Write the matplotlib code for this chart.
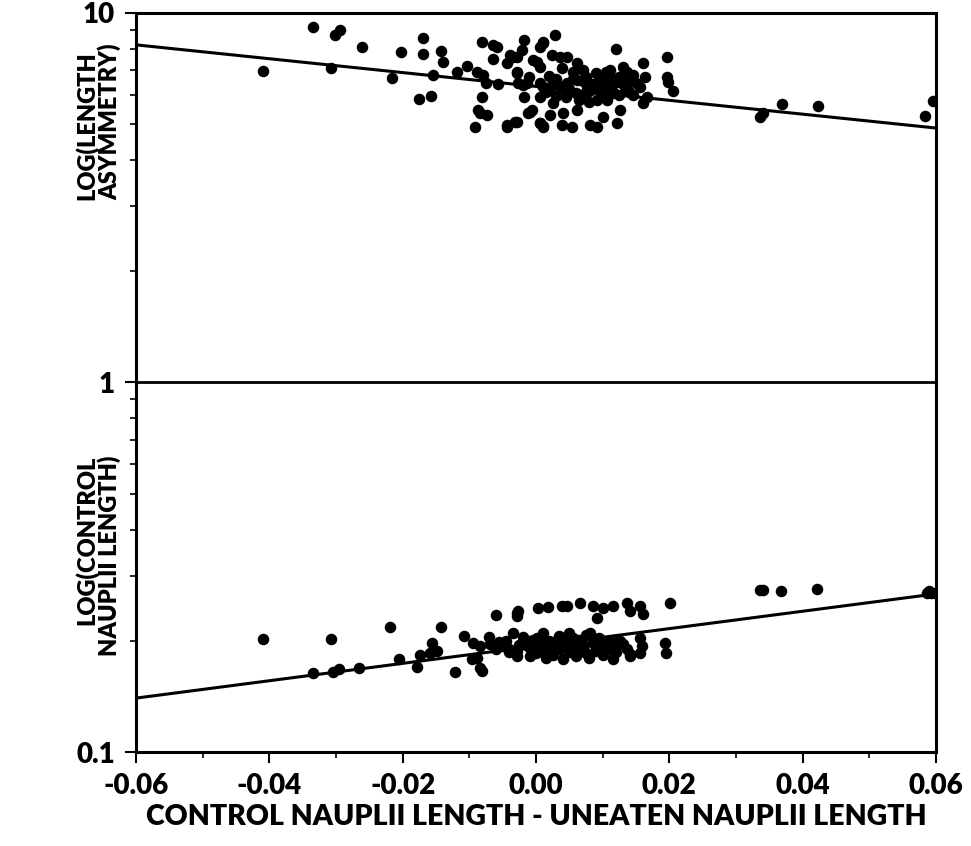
import matplotlib
matplotlib.use("Agg")
import matplotlib.pyplot as plt
import matplotlib.ticker as mticker
import numpy as np

plt.rcParams['font.family'] = ['Lato', 'DejaVu Sans']
plt.rcParams['font.weight'] = 'heavy'
plt.rcParams['axes.unicode_minus'] = False

# upper cloud: length asymmetry
asym_x = [-0.0410, -0.0335, -0.0308, -0.0302, -0.0294, -0.0261, -0.0216, -0.0203, -0.0170, -0.0170,
          -0.0143, -0.0140, -0.0155, -0.0176, -0.0158, -0.0119, -0.0104, -0.0081, -0.0065, -0.0059,
          -0.0065, -0.0089, -0.0080, -0.0075, -0.0057, -0.0081, -0.0087, -0.0084, -0.0074, -0.0092,
          -0.0044, -0.0029, -0.0018, -0.0021, -0.0029, -0.0039, -0.0044, -0.0029, -0.0027, -0.0014,
          -0.0018, -0.0009, 0.0006, 0.0011, 0.0011, 0.0006, 0.0002, 0.0006, 0.0029, 0.0011,
          -0.0035, -0.0029, -0.0005, 0.0006, 0.0024, 0.0036, 0.0047, 0.0062, 0.0071, 0.0039,
          -0.0020, 0.0006, 0.0021, 0.0047, 0.0062, 0.0077, 0.0096, 0.0111, 0.0131, 0.0137,
          0.0146, 0.0120, 0.0161, 0.0164, 0.0156, 0.0167, 0.0161, 0.0092, 0.0107, 0.0116,
          0.0026, 0.0041, 0.0062, 0.0101, 0.0126, 0.0122, 0.0081, 0.0092, 0.0006, 0.0011,
          0.0021, 0.0039, 0.0054, -0.0012, -0.0006, -0.0044, -0.0032, 0.0197, 0.0197, 0.0198,
          0.0206, 0.0336, 0.0341, 0.0369, 0.0423, 0.0584, 0.0596,
          0.0030, 0.0050, 0.0070, 0.0085, 0.0100, 0.0110, 0.0120, 0.0135, 0.0145, 0.0075,
          0.0090, 0.0055, 0.0040, 0.0015, 0.0065, 0.0105, 0.0125, 0.0140, 0.0080, 0.0030,
          0.0035, 0.0060, 0.0080, 0.0095, 0.0115, 0.0130, 0.0150, 0.0020, 0.0045, 0.0070,
          0.0100, 0.0125, 0.0055, 0.0085, 0.0110, 0.0010, -0.0010, 0.0140]
asym_y = [6.96, 9.17, 7.10, 8.72, 8.99, 8.09, 6.66, 7.84, 8.55, 7.74,
          7.89, 7.37, 6.79, 5.85, 5.96, 6.92, 7.18, 8.35, 8.19, 8.09,
          7.50, 6.92, 6.79, 6.46, 6.42, 5.92, 5.46, 5.36, 5.29, 4.91,
          4.91, 5.07, 8.45, 7.94, 7.60, 7.69, 7.32, 6.88, 6.46, 6.46,
          5.92, 5.39, 5.03, 4.94, 8.35, 8.09, 7.37, 5.92, 8.72, 8.27,
          7.60, 6.92, 7.46, 7.14, 7.69, 7.60, 7.60, 7.32, 7.01, 7.10,
          6.38, 6.46, 6.30, 6.46, 6.58, 6.30, 6.18, 7.01, 7.14, 6.92,
          6.79, 7.99, 7.32, 6.71, 6.30, 5.92, 5.71, 5.81, 5.81, 6.07,
          5.71, 5.36, 5.46, 5.23, 5.46, 5.03, 4.97, 4.91, 5.03, 4.91,
          5.29, 4.97, 4.91, 5.36, 5.46, 4.97, 5.07, 7.60, 6.71, 6.50,
          6.15, 5.23, 5.36, 5.67, 5.60, 5.26, 5.77,
          6.60, 6.20, 6.00, 6.40, 6.60, 6.30, 6.50, 6.20, 6.00, 6.70,
          6.85, 6.90, 6.25, 6.10, 5.80, 6.90, 6.70, 6.55, 5.75, 5.95,
          6.35, 6.05, 6.15, 6.50, 6.10, 6.40, 6.45, 6.75, 5.90, 6.55,
          5.95, 6.00, 6.60, 6.20, 6.75, 6.30, 6.70, 6.10]

# lower cloud: control nauplii length
ctrl_x = [-0.0410, -0.0308, -0.0335, -0.0305, -0.0296, -0.0266, -0.0219, -0.0206, -0.0179, -0.0174,
          -0.0159, -0.0149, -0.0156, -0.0143, -0.0122, -0.0108, -0.0095, -0.0084, -0.0069, -0.0096,
          -0.0089, -0.0084, -0.0081, -0.0060, -0.0029, -0.0027, -0.0029, 0.0003, 0.0018, 0.0039,
          -0.0035, -0.0050, -0.0029, -0.0009, 0.0006, -0.0029, -0.0009, 0.0002, 0.0011, 0.0047,
          0.0066, 0.0086, 0.0101, 0.0116, 0.0137, 0.0156, 0.0161, 0.0141, 0.0092, 0.0081,
          0.0126, 0.0137, 0.0141, 0.0156, 0.0159, 0.0156, 0.0194, 0.0195, 0.0116, 0.0141,
          0.0201, 0.0336, 0.0341, 0.0368, 0.0422, 0.0587, 0.0593, 0.0598, 0.0590,
          -0.0070, -0.0060, -0.0045, -0.0040, -0.0020, -0.0015, 0.0000, 0.0010, 0.0020, 0.0025,
          0.0030, 0.0035, 0.0045, 0.0050, 0.0055, 0.0060, 0.0065, 0.0070, 0.0075, 0.0085,
          0.0090, 0.0095, 0.0100, 0.0105, 0.0110, 0.0120, 0.0015, 0.0040, 0.0080, -0.0010,
          0.0050, 0.0075,
          -0.0055, -0.0025, 0.0005, 0.0025, 0.0035, 0.0055, 0.0070, 0.0090, 0.0110, 0.0130,
          -0.0040, -0.0005, 0.0020, 0.0045, 0.0065, 0.0085, 0.0100, 0.0120, 0.0010, 0.0060]
ctrl_y = [0.2023, 0.2023, 0.1638, 0.1648, 0.1680, 0.1690, 0.2180, 0.1790, 0.1700, 0.1830,
          0.1855, 0.1880, 0.1970, 0.2180, 0.1648, 0.2060, 0.1970, 0.1940, 0.1960, 0.1787,
          0.1800, 0.1690, 0.1660, 0.2350, 0.2380, 0.2410, 0.2340, 0.2456, 0.2470, 0.2490,
          0.2100, 0.1940, 0.1880, 0.1910, 0.1880, 0.1820, 0.1820, 0.2036, 0.2000, 0.2490,
          0.2535, 0.2490, 0.2456, 0.2490, 0.2535, 0.2490, 0.2365, 0.2410, 0.2310, 0.2100,
          0.2000, 0.1900, 0.1843, 0.2036, 0.1940, 0.1855, 0.1970, 0.1855, 0.1787, 0.1820,
          0.2535, 0.2748, 0.2748, 0.2730, 0.2765, 0.2700, 0.2700, 0.2700, 0.2730,
          0.2050, 0.1900, 0.2000, 0.1860, 0.2050, 0.1950, 0.1850, 0.2100, 0.1930, 0.1830,
          0.2000, 0.1900, 0.2050, 0.1870, 0.1960, 0.1820, 0.2010, 0.1910, 0.1850, 0.1970,
          0.1880, 0.2030, 0.1830, 0.1930, 0.1990, 0.1870, 0.1800, 0.1790, 0.1800, 0.2000,
          0.2100, 0.2070,
          0.1980, 0.1950, 0.1960, 0.1880, 0.2060, 0.2030, 0.1950, 0.1920, 0.1900, 0.1960,
          0.1900, 0.2010, 0.2000, 0.1930, 0.1880, 0.2040, 0.1970, 0.2000, 0.1910, 0.1960]

# fitted lines: log10(y) = a + b*x
asym_fit = (0.8005, -1.875)
ctrl_fit = (-0.713, 2.35)
x_range = [-0.06, 0.06]

fig = plt.figure(figsize=(9.71, 8.46), dpi=100)
ax = fig.add_axes([0.140, 0.111, 0.824, 0.874])

ax.plot(asym_x, asym_y, 'o', color='black', markersize=8.3, markeredgewidth=0)
ax.plot(ctrl_x, ctrl_y, 'o', color='black', markersize=8.3, markeredgewidth=0)

xl = np.array(x_range)
for a, b in [asym_fit, ctrl_fit]:
    ax.plot(xl, 10 ** (a + b * xl), color='black', linewidth=2.2)
ax.axhline(1, color='black', linewidth=2.0)

ax.set_yscale('log')
ax.set_xlim(x_range)
ax.set_ylim(0.1, 10)

ax.xaxis.set_major_locator(mticker.MultipleLocator(0.02))
ax.xaxis.set_minor_locator(mticker.MultipleLocator(0.01))
ax.xaxis.set_major_formatter(mticker.FormatStrFormatter('%.2f'))
ax.yaxis.set_major_locator(mticker.FixedLocator([0.1, 1, 10]))
ax.yaxis.set_major_formatter(mticker.FixedFormatter(['0.1', '1', '10']))
ax.yaxis.set_minor_locator(mticker.LogLocator(subs=np.arange(2, 10)))
ax.yaxis.set_minor_formatter(mticker.NullFormatter())

ax.tick_params(which='major', direction='out', length=8, width=1.5, labelsize=20, pad=7)
ax.tick_params(which='minor', direction='out', length=4, width=1.2)
for s in ax.spines.values():
    s.set_linewidth(2.2)

ax.set_xlabel("CONTROL NAUPLII LENGTH - UNEATEN NAUPLII LENGTH",
              fontsize=20.5, fontweight='heavy', labelpad=4)

fig.text(0.101, 0.764, "LOG(LENGTH\nASYMMETRY)", rotation=90, ha='center', va='bottom',
         multialignment='left', fontsize=17, fontweight='heavy', linespacing=0.95)
fig.text(0.101, 0.462, "LOG(CONTROL\nNAUPLII LENGTH)", rotation=90, ha='center', va='top',
         multialignment='right', fontsize=17, fontweight='heavy', linespacing=0.95)

fig.savefig("out.png", dpi=100)
